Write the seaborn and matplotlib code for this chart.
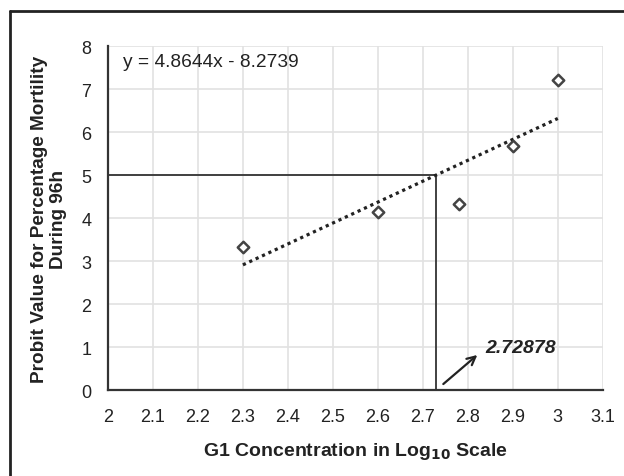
import numpy as np
import pandas as pd
import matplotlib
matplotlib.use("Agg")
import matplotlib.pyplot as plt
import seaborn as sns
from matplotlib.lines import Line2D

# data
log_conc = [2.3, 2.6, 2.78, 2.9, 3.0]
probit = [3.34, 4.15, 4.32, 5.69, 7.22]
slope = 4.8644
intercept = -8.2739
lc50_x = 2.72878
probit_50 = 5
x_ticks = [2, 2.1, 2.2, 2.3, 2.4, 2.5, 2.6, 2.7, 2.8, 2.9, 3, 3.1]
x_tick_labels = ["2", "2.1", "2.2", "2.3", "2.4", "2.5", "2.6", "2.7", "2.8", "2.9", "3", "3.1"]
y_ticks = [0, 1, 2, 3, 4, 5, 6, 7, 8]

sns.set_theme(style="whitegrid")
plt.rcParams['font.family'] = ['Liberation Sans', 'DejaVu Sans']

df = pd.DataFrame({"x": log_conc, "y": probit})

fig = plt.figure(figsize=(6.24, 4.77), dpi=100)
ax = fig.add_axes([0.173, 0.180, 0.793, 0.721])

# trendline
tx = np.array([min(log_conc), max(log_conc)])
ax.plot(tx, slope * tx + intercept, linestyle=(0, (1, 1.2)), color="#222222", lw=2.3, zorder=3)

sns.scatterplot(data=df, x="x", y="y", ax=ax, marker="D", s=34,
                facecolor="white", edgecolor="#444444", linewidth=1.8, zorder=4)

# LC50 guide lines
ax.plot([x_ticks[0], lc50_x], [probit_50, probit_50], color="#333333", lw=1.3, zorder=2)
ax.plot([lc50_x, lc50_x], [y_ticks[0], probit_50], color="#333333", lw=1.3, zorder=2)

ax.annotate("", xy=(lc50_x + 0.097, 0.86), xytext=(lc50_x + 0.012, 0.1),
            arrowprops=dict(arrowstyle="->", color="#222222", lw=1.6, mutation_scale=15))
ax.text(lc50_x + 0.11, 0.88, "2.72878", fontsize=14, fontweight="bold", fontstyle="italic",
        color="#222222", ha="left", va="baseline")

ax.text(2.033, 7.65, "y = 4.8644x - 8.2739", fontsize=13.8, color="#222222", ha="left", va="center")

ax.set_xlim(2, 3.1)
ax.set_ylim(0, 8)
ax.set_xticks(x_ticks)
ax.set_xticklabels(x_tick_labels)
ax.set_yticks(y_ticks)
ax.tick_params(axis="both", labelsize=13, colors="#222222", length=0)
ax.tick_params(axis="x", pad=13)
ax.tick_params(axis="y", pad=12)

ax.grid(True, color="#e2e2e2", lw=1.2)
ax.set_facecolor("white")
for s in ["top", "right"]:
    ax.spines[s].set_visible(False)
for s in ["left", "bottom"]:
    ax.spines[s].set_visible(True)
    ax.spines[s].set_color("#333333")
    ax.spines[s].set_linewidth(1.6)

ax.set_xlabel("G1 Concentration in Log$_{\\mathbf{10}}$ Scale", fontsize=14, fontweight="bold",
              color="#222222", labelpad=11)
ax.set_ylabel("Probit Value for Percentage Mortility\nDuring 96h", fontsize=13.7, fontweight="bold",
              color="#222222", labelpad=10, linespacing=1.15)

# outer frame (top and left)
fig.add_artist(Line2D([10 / 624, 1.0], [1 - 12 / 477, 1 - 12 / 477], transform=fig.transFigure,
                      color="#222222", lw=2))
fig.add_artist(Line2D([10 / 624, 10 / 624], [0, 1 - 12 / 477], transform=fig.transFigure,
                      color="#222222", lw=2))

fig.savefig("out.png", dpi=100)
